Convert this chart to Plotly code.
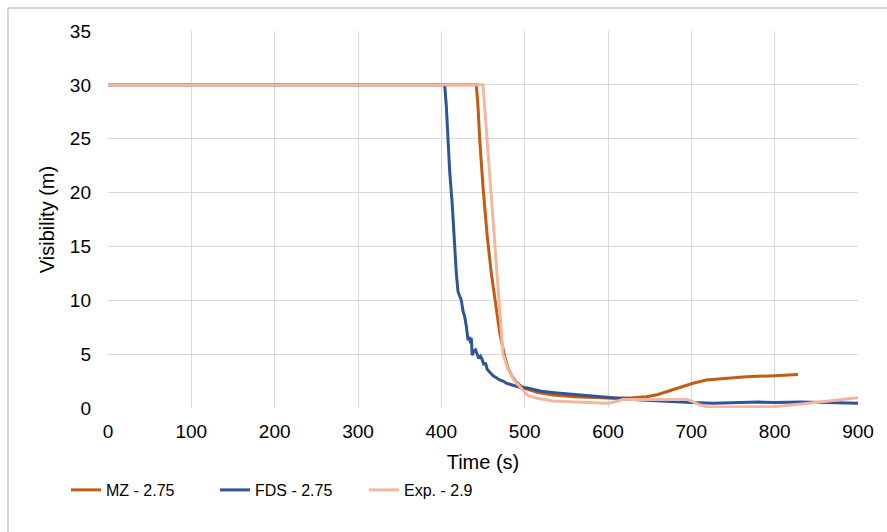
import plotly.graph_objects as go

# Time (s) / visibility (m) series
mz_t = [0, 442, 444, 446, 450, 455, 460, 465, 470, 476, 480, 485, 490, 496, 503, 515,
        534, 560, 606, 630, 646, 660, 670, 685, 702, 718, 740, 766, 800, 828]
mz_v = [30, 30, 28, 25, 20.5, 16, 12.5, 9.5, 7.0, 4.8, 3.7, 2.9, 2.4, 2.0, 1.75, 1.45,
        1.2, 1.05, 0.9, 0.95, 1.05, 1.25, 1.5, 1.9, 2.3, 2.6, 2.75, 2.9, 3.0, 3.1]

fds_t = [0, 404, 406, 408, 410, 413, 416, 418, 420, 422, 424, 426, 428, 430, 432, 434,
         435, 436, 437, 439, 441, 443, 445, 447, 449, 451, 453, 455, 458, 462, 466, 470,
         474, 478, 482, 486, 490, 495, 503, 510, 520, 539, 560, 580, 599, 620, 640, 660,
         686, 700, 726, 750, 780, 800, 830, 860, 900]
fds_v = [30, 30, 28, 25, 22, 19, 14.4, 12.5, 10.8, 10.3, 10.0, 9.0, 8.5, 7.6, 6.3, 6.6,
         6.0, 6.5, 4.9, 5.3, 5.4, 5.0, 4.6, 4.8, 4.5, 4.0, 4.2, 3.6, 3.3, 3.0, 2.8, 2.6,
         2.5, 2.3, 2.2, 2.1, 2.0, 1.9, 1.85, 1.7, 1.55, 1.4, 1.25, 1.1, 0.95, 0.85, 0.75, 0.65,
         0.56, 0.5, 0.45, 0.5, 0.55, 0.5, 0.55, 0.5, 0.45]

exp_t = [0, 450, 474, 480, 487, 495, 503, 515, 534, 560, 600, 610, 618, 650, 695, 700,
         710, 719, 760, 798, 830, 860, 900]
exp_v = [30, 30, 5.0, 3.6, 2.6, 1.9, 1.2, 0.9, 0.65, 0.55, 0.45, 0.6, 0.8, 0.8, 0.8, 0.65,
         0.3, 0.1, 0.1, 0.12, 0.35, 0.6, 0.95]

series = [
    ("MZ - 2.75", mz_t, mz_v, "#c55a11"),
    ("FDS - 2.75", fds_t, fds_v, "#2f5597"),
    ("Exp. - 2.9", exp_t, exp_v, "#f4b6a0"),
]

x_ticks = list(range(0, 901, 100))
y_ticks = list(range(0, 36, 5))

fig = go.Figure()
for name, t, v, color in series:
    fig.add_trace(go.Scatter(x=t, y=v, mode="lines", name=name,
                             line=dict(color=color, width=3)))

font = "Liberation Sans, Arial, sans-serif"
W, H = 887, 532
L, R, T, B = 108, 29, 31, 124
pw, ph = W - L - R, H - T - B


def px(x):
    return (x - L) / pw


def py(y):
    return (H - B - y) / ph


fig.update_layout(
    width=W, height=H,
    margin=dict(l=L, r=R, t=T, b=B),
    paper_bgcolor="white", plot_bgcolor="white",
    font=dict(family=font, color="#000000"),
    showlegend=True,
    legend=dict(orientation="h", x=px(66), y=py(490), xanchor="left", yanchor="middle",
                entrywidth=104, entrywidthmode="pixels",
                font=dict(size=16, family=font), bgcolor="rgba(0,0,0,0)"),
    xaxis=dict(range=[0, 900], tickvals=x_ticks, showgrid=True, gridcolor="#d9d9d9",
               gridwidth=1, zeroline=False, showline=False, ticks="",
               tickfont=dict(size=19), ticklabelstandoff=10,
               title=dict(text="Time (s)", font=dict(size=20), standoff=13)),
    yaxis=dict(range=[0, 35], tickvals=y_ticks, showgrid=True, gridcolor="#d9d9d9",
               gridwidth=1, zeroline=False, showline=False, ticks="",
               tickfont=dict(size=19), ticklabelstandoff=16,
               title=dict(text="Visibility (m)", font=dict(size=20), standoff=9)),
    shapes=[
        dict(type="line", xref="paper", yref="paper", x0=px(8), x1=px(887), y0=py(8), y1=py(8),
             line=dict(color="#c8c8c8", width=1.5)),
        dict(type="line", xref="paper", yref="paper", x0=px(8), x1=px(8), y0=py(8), y1=py(532),
             line=dict(color="#c8c8c8", width=1.5)),
    ],
)

fig.write_html("out.html")
